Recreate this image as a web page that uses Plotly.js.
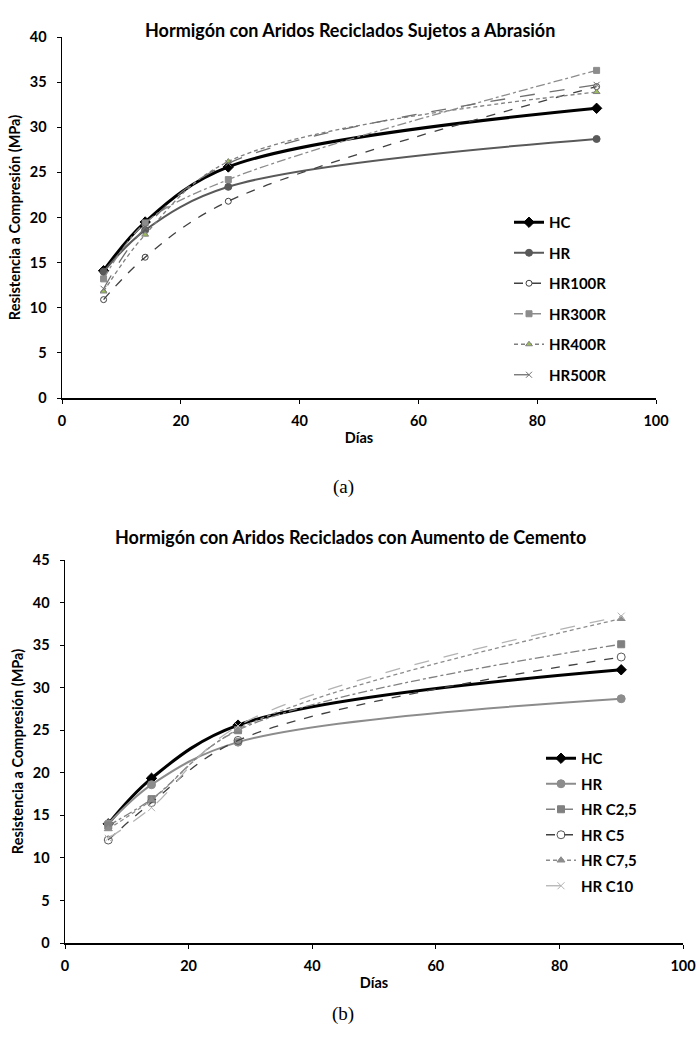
<!DOCTYPE html>
<html><head><meta charset="utf-8">
<script src="https://cdn.plot.ly/plotly-3.0.1.min.js"></script>
<style>html,body{margin:0;padding:0;background:#fff}#chart{width:699px;height:1043px}</style>
</head><body><div id="chart"></div>
<script>
// ---- Data (a): abrasion ----
const diasA = [7, 14, 28, 90];
const HC_A = [14.1, 19.5, 25.6, 32.1];
const HR_A = [14.0, 18.6, 23.4, 28.7];
const HR100R = [10.9, 15.6, 21.8, 34.5];
const HR300R = [13.2, 19.4, 24.2, 36.3];
const HR400R = [11.8, 18.1, 26.2, 33.9];
const HR500R = [12.1, 18.9, 26.0, 34.7];
// ---- Data (b): cement increase ----
const diasB = [7, 14, 28, 90];
const HC_B = [14.0, 19.35, 25.6, 32.1];
const HR_B = [14.0, 18.6, 23.6, 28.7];
const HRC25 = [13.8, 16.9, 25.0, 35.1];
const HRC5 = [12.1, 16.5, 23.8, 33.6];
const HRC75 = [13.4, 16.8, 25.1, 38.1];
const HRC10 = [12.3, 15.9, 25.5, 38.4];

const titleA = 'Hormigón con Aridos Reciclados Sujetos a Abrasión';
const titleB = 'Hormigón con Aridos Reciclados con Aumento de Cemento';
const yTitle = 'Resistencia a Compresión (MPa)';
const xTitle = 'Días';

const F = 'Lato, "Open Sans", sans-serif';
function tr(name, x, y, xa, ya, leg, color, width, dash, sym, msize, mcolor, lc) {
  return {x: x, y: y, name: name, xaxis: xa, yaxis: ya, legend: leg, legendgroup: name + leg,
    mode: 'lines+markers', line: {color: color, width: width, dash: dash, shape: 'spline', smoothing: 1},
    marker: {symbol: sym, size: msize, color: mcolor, line: {color: lc || mcolor, width: 1}}};
}
const data = [
  tr('HC', diasA, HC_A, 'x', 'y', 'legend', '#000000', 3, 'solid', 'diamond', 8, '#000000'),
  tr('HR', diasA, HR_A, 'x', 'y', 'legend', '#595959', 2, 'solid', 'circle', 7, '#595959'),
  tr('HR100R', diasA, HR100R, 'x', 'y', 'legend', '#404040', 1.3, 'dash', 'circle-open', 6, '#404040'),
  tr('HR300R', diasA, HR300R, 'x', 'y', 'legend', '#8c8c8c', 1.3, 'dashdot', 'square', 6, '#8c8c8c'),
  tr('HR400R', diasA, HR400R, 'x', 'y', 'legend', '#7f7f7f', 1.3, '4px,3px', 'triangle-up', 6, '#9bbb59', '#808080'),
  tr('HR500R', diasA, HR500R, 'x', 'y', 'legend', '#6f6f6f', 1.3, 'longdash', 'x-thin-open', 6, '#6f6f6f'),
  tr('HC', diasB, HC_B, 'x2', 'y2', 'legend2', '#000000', 3, 'solid', 'diamond', 8, '#000000'),
  tr('HR', diasB, HR_B, 'x2', 'y2', 'legend2', '#8c8c8c', 2, 'solid', 'circle', 8, '#8c8c8c'),
  tr('HR C2,5', diasB, HRC25, 'x2', 'y2', 'legend2', '#808080', 1.3, 'dashdot', 'square', 7, '#808080'),
  tr('HR C5', diasB, HRC5, 'x2', 'y2', 'legend2', '#404040', 1.3, 'dash', 'circle-open', 8, '#595959'),
  tr('HR C7,5', diasB, HRC75, 'x2', 'y2', 'legend2', '#8c8c8c', 1.3, '4px,3px', 'triangle-up', 7, '#8c8c8c'),
  tr('HR C10', diasB, HRC10, 'x2', 'y2', 'legend2', '#b3b3b3', 1.3, 'longdash', 'x-thin-open', 7, '#b3b3b3'),
];

const tickFont = {family: F, size: 14.5, color: '#000', weight: 'bold'};
const axisTitleFont = {family: F, size: 14.5, color: '#000', weight: 'bold'};
function xax(domain, anchor) {
  return {domain: domain, anchor: anchor, range: [0, 100], dtick: 20, showgrid: false, zeroline: false,
    showline: true, linecolor: '#000', linewidth: 1.5, ticks: 'outside', ticklen: 4, tickcolor: '#000',
    tickfont: tickFont, ticklabelstandoff: 5,
    title: {text: xTitle, font: axisTitleFont, standoff: 5}};
}
function yax(domain, anchor, max) {
  return {domain: domain, anchor: anchor, range: [0, max], dtick: 5, showgrid: false, zeroline: false,
    showline: true, linecolor: '#000', linewidth: 1.5, ticks: 'outside', ticklen: 4, tickcolor: '#000',
    tickfont: tickFont, ticklabelstandoff: 7,
    title: {text: yTitle, font: axisTitleFont, standoff: 5}};
}
const legFont = {family: F, size: 15, weight: 'bold', color: '#000'};
const layout = {
  width: 699, height: 1043, margin: {l: 0, r: 0, t: 0, b: 0}, autosize: false,
  paper_bgcolor: '#fff', plot_bgcolor: '#fff', font: {family: F, color: '#000'},
  xaxis: xax([62/699, 656/699], 'y'),
  yaxis: yax([1 - 398/1043, 1 - 37/1043], 'x', 40),
  xaxis2: xax([65/699, 683/699], 'y2'),
  yaxis2: yax([1 - 943/1043, 1 - 560/1043], 'x2', 45),
  legend: {x: 509/699, y: 1 - 206/1043, xanchor: 'left', yanchor: 'top', bgcolor: 'rgba(0,0,0,0)',
    font: legFont, tracegroupgap: 8, itemwidth: 30},
  legend2: {x: 541/699, y: 1 - 742/1043, xanchor: 'left', yanchor: 'top', bgcolor: 'rgba(0,0,0,0)',
    font: legFont, tracegroupgap: 3, itemwidth: 30},
  annotations: [
    {text: titleA, xref: 'paper', yref: 'paper', x: 350/699, y: 1 - 17/1043, showarrow: false,
     font: {family: F, size: 18, weight: 'bold', color: '#000'}},
    {text: titleB, xref: 'paper', yref: 'paper', x: 350/699, y: 1 - 537/1043, showarrow: false,
     font: {family: F, size: 18, weight: 'bold', color: '#000'}},
    {text: '(a)', xref: 'paper', yref: 'paper', x: 343/699, y: 1 - 487/1043, showarrow: false,
     font: {family: '"Liberation Serif", "DejaVu Serif", serif', size: 19, color: '#000'}},
    {text: '(b)', xref: 'paper', yref: 'paper', x: 343/699, y: 1 - 1027/1043, showarrow: false,
     font: {family: '"Liberation Serif", "DejaVu Serif", serif', size: 19, color: '#000'}}
  ],
  showlegend: true
};
Plotly.newPlot('chart', data, layout, {displayModeBar: false, staticPlot: true});
</script></body></html>
